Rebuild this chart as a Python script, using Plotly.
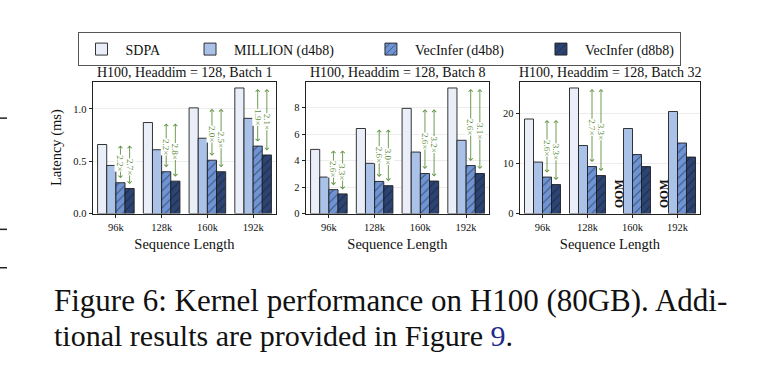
import plotly.graph_objects as go

# ---------------- data ----------------
seq_labels = ["96k", "128k", "160k", "192k"]
series_names = ["SDPA", "MILLION (d4b8)", "VecInfer (d4b8)", "VecInfer (d8b8)"]
panel_titles = ["H100, Headdim = 128, Batch 1",
                "H100, Headdim = 128, Batch 8",
                "H100, Headdim = 128, Batch 32"]

b1_sdpa = [0.66, 0.87, 1.01, 1.20]
b1_million = [0.46, 0.61, 0.72, 0.91]
b1_vec_d4b8 = [0.295, 0.40, 0.51, 0.645]
b1_vec_d8b8 = [0.24, 0.31, 0.40, 0.56]

b8_sdpa = [4.85, 6.43, 7.95, 9.49]
b8_million = [2.76, 3.80, 4.65, 5.54]
b8_vec_d4b8 = [1.81, 2.43, 3.03, 3.63]
b8_vec_d8b8 = [1.49, 2.11, 2.46, 3.03]

b32_sdpa = [18.9, 25.1, None, None]  # None = OOM
b32_million = [10.3, 13.6, 17.0, 20.4]
b32_vec_d4b8 = [7.3, 9.4, 11.8, 14.1]
b32_vec_d8b8 = [5.8, 7.6, 9.4, 11.3]

b1_speedup_d4b8 = ["2.2×", "2.2×", "2.0×", "1.9×"]
b1_speedup_d8b8 = ["2.7×", "2.8×", "2.5×", "2.1×"]
b8_speedup_d4b8 = ["2.6×", "2.6×", "2.6×", "2.6×"]
b8_speedup_d8b8 = ["3.3×", "3.0×", "3.2×", "3.1×"]
b32_speedup_d4b8 = ["2.6×", "2.7×", None, None]
b32_speedup_d8b8 = ["3.3×", "3.3×", None, None]

y_dticks = [0.5, 2, 10]
y_formats = [".1f", "d", "d"]

# ---------------- style ----------------
FONT = "Liberation Serif"
colors = ["#e9eef8", "#abc2e8", "#6f94d5", "#2c4474"]
patterns = ["", "", "/", "/"]
arrow_color = "#5f9140"
W, H = 765, 383

panels = [
    dict(data=[b1_sdpa, b1_million, b1_vec_d4b8, b1_vec_d8b8],
         sp=[b1_speedup_d4b8, b1_speedup_d8b8]),
    dict(data=[b8_sdpa, b8_million, b8_vec_d4b8, b8_vec_d8b8],
         sp=[b8_speedup_d4b8, b8_speedup_d8b8]),
    dict(data=[b32_sdpa, b32_million, b32_vec_d4b8, b32_vec_d8b8],
         sp=[b32_speedup_d4b8, b32_speedup_d8b8]),
]

x_dom_px = [(93, 276), (306, 489), (520, 700)]
y_top_px, y_bot_px = 83, 217
y_dom = [1 - y_bot_px / H, 1 - y_top_px / H]

n_series = len(series_names)
bar_w = 0.8 / n_series
offsets = [-0.4 + bar_w * (k + 0.5) for k in range(n_series)]

fig = go.Figure()
annotations = []
layout_axes = {}

NB = "\u00a0"
pad_names = [series_names[0] + NB * 6,
             series_names[1] + NB * 8,
             series_names[2] + NB * 8,
             series_names[3]]

for p, panel in enumerate(panels):
    sfx = "" if p == 0 else str(p + 1)
    xa, ya = "x" + sfx, "y" + sfx
    for k in range(n_series):
        fig.add_trace(go.Bar(
            x=seq_labels, y=panel["data"][k], name=pad_names[k],
            xaxis=xa, yaxis=ya, legendgroup=series_names[k],
            showlegend=(p == 0),
            marker=dict(color=colors[k],
                        line=dict(color="#1e1e1e", width=0.9),
                        pattern=dict(shape=patterns[k], fgcolor="#111111",
                                     size=6, solidity=0.18)),
        ))
    vals = [v for s in panel["data"] for v in s if v is not None]
    ymax = max(vals) * 1.05
    x0, x1 = x_dom_px[p]
    layout_axes["xaxis" + sfx] = dict(
        domain=[x0 / W, x1 / W], anchor=ya, type="category",
        range=[-0.5, len(seq_labels) - 0.5],
        showline=True, linecolor="#222", linewidth=1, mirror=True,
        ticks="outside", ticklen=3.5, tickcolor="#222",
        tickfont=dict(family=FONT, size=10.5, color="#111"),
        title=dict(text="Sequence Length", standoff=7,
                   font=dict(family=FONT, size=14.5, color="#111")),
        showgrid=False, zeroline=False, fixedrange=True)
    layout_axes["yaxis" + sfx] = dict(
        domain=y_dom, anchor=xa, range=[0, ymax],
        dtick=y_dticks[p], tick0=0, tickformat=y_formats[p],
        showline=True, linecolor="#222", linewidth=1, mirror=True,
        ticks="outside", ticklen=3.5, tickcolor="#222",
        tickfont=dict(family=FONT, size=10.5, color="#111"),
        showgrid=True, gridcolor="#ececec", gridwidth=0.8,
        zeroline=False, fixedrange=True)
    if p == 0:
        layout_axes["yaxis"]["title"] = dict(
            text="Latency (ms)", standoff=8,
            font=dict(family=FONT, size=14.5, color="#111"))

    # subplot title
    annotations.append(dict(
        x=(x0 + x1) / 2 / W, y=1 - 74 / H, xref="paper", yref="paper",
        text=panel_titles[p], showarrow=False,
        font=dict(family=FONT, size=14, color="#111"),
        xanchor="center", yanchor="middle"))

    sdpa = panel["data"][0]
    for i, lab in enumerate(seq_labels):
        if sdpa[i] is None:
            annotations.append(dict(
                x=i + offsets[0], y=0, xref=xa, yref=ya,
                text="<b>OOM</b>", textangle=-90, showarrow=False,
                font=dict(family=FONT, size=11.5, color="#111"),
                xanchor="center", yanchor="bottom", yshift=3))
            continue
        for j, k in enumerate([2, 3]):
            lbl = panel["sp"][j][i]
            if lbl is None:
                continue
            top = sdpa[i]
            bot = panel["data"][k][i]
            xp = i + offsets[k]
            annotations.append(dict(
                x=xp, y=top, ax=xp, ay=bot, xref=xa, yref=ya,
                axref=xa, ayref=ya, text="", showarrow=True,
                arrowside="end+start", arrowhead=4, startarrowhead=4,
                arrowsize=0.9, startarrowsize=0.9, arrowwidth=0.9,
                arrowcolor=arrow_color, standoff=1, startstandoff=3))
            annotations.append(dict(
                x=xp, y=(top + bot) / 2, xref=xa, yref=ya,
                text=lbl, textangle=90, showarrow=False,
                font=dict(family=FONT, size=9, color=arrow_color),
                bgcolor="white", borderpad=0,
                xanchor="center", yanchor="middle"))

# caption
annotations.append(dict(
    x=52 / W, y=1 - 305 / H, xref="paper", yref="paper", showarrow=False,
    text="Figure 6: Kernel performance on H100 (80GB). Addi-",
    font=dict(family=FONT, size=31, color="#111"),
    xanchor="left", yanchor="middle"))
annotations.append(dict(
    x=52 / W, y=1 - 341 / H, xref="paper", yref="paper", showarrow=False,
    text="tional results are provided in Figure <span style='color:#1f2a8c'>9</span>.",
    font=dict(family=FONT, size=30, color="#111"),
    xanchor="left", yanchor="middle"))

# page-edge fragments from neighbouring column
shapes = []
for yy in [120, 233, 272]:
    shapes.append(dict(type="line", xref="paper", yref="paper",
                       x0=0, x1=7 / W, y0=1 - yy / H, y1=1 - yy / H,
                       line=dict(color="#222", width=1.5)))

fig.update_layout(
    width=W, height=H, margin=dict(l=0, r=0, t=0, b=0),
    paper_bgcolor="white", plot_bgcolor="white",
    barmode="group", bargap=0.2, bargroupgap=0,
    font=dict(family=FONT, color="#111"),
    legend=dict(orientation="h", x=379 / W, xanchor="center",
                y=1 - 33 / H, yanchor="top",
                bordercolor="#555", borderwidth=1, bgcolor="white",
                font=dict(family=FONT, size=14, color="#111"),
                itemwidth=38, tracegroupgap=0),
    annotations=annotations, shapes=shapes,
    **layout_axes)

fig.write_html("out.html",
               config={"displayModeBar": False},
               post_script="document.body.style.margin='0px';")
